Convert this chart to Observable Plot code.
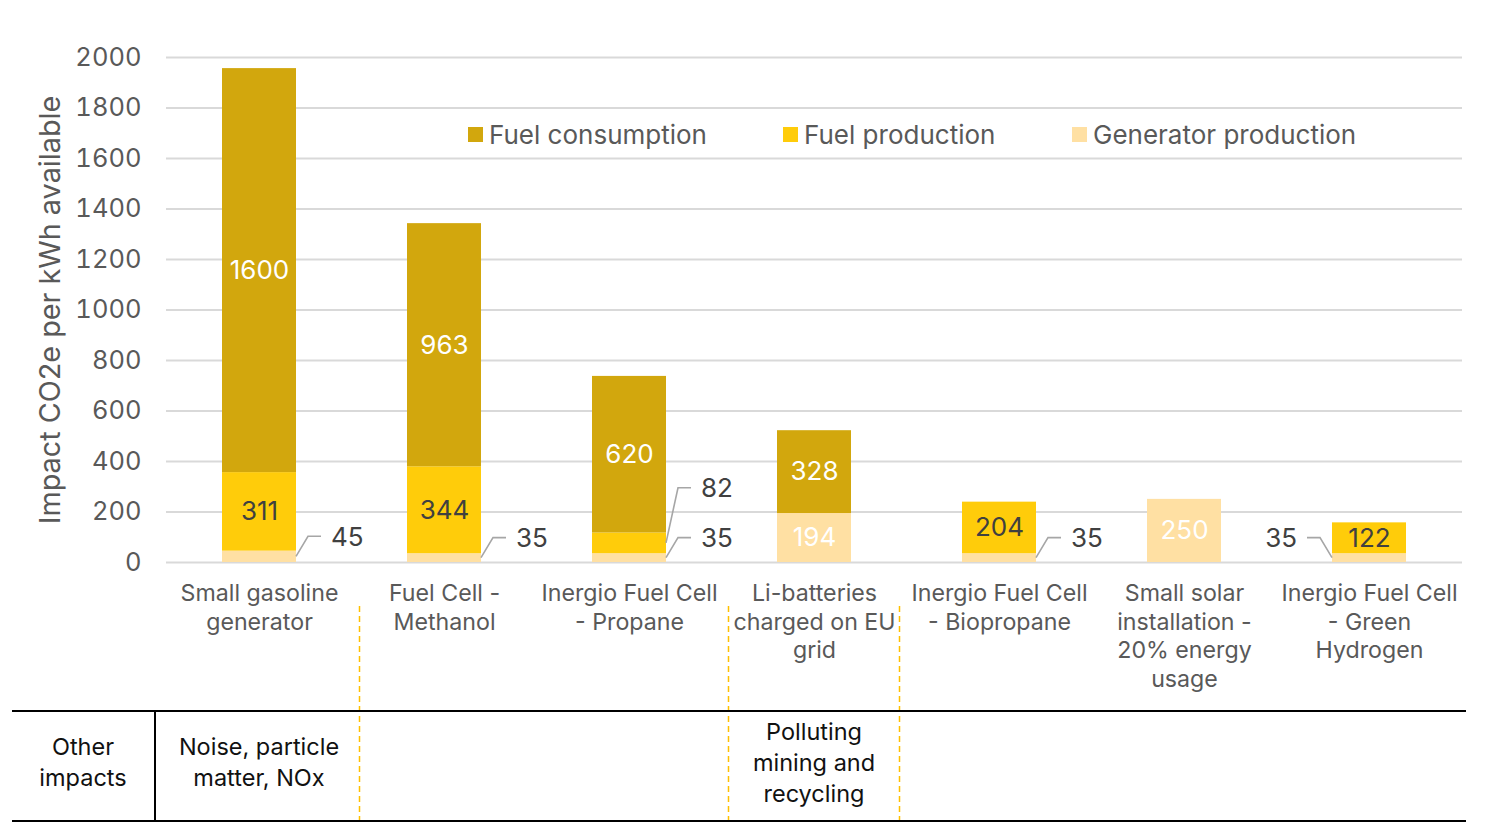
<!DOCTYPE html>
<html><head><meta charset="utf-8">
<script src="https://cdn.jsdelivr.net/npm/d3@7"></script>
<script src="https://cdn.jsdelivr.net/npm/@observablehq/plot@0.6"></script>
<style>
body{margin:0;background:#fff;font-family:Inter, "Noto Sans", sans-serif;}
#wrap{position:relative;width:1488px;height:837px;overflow:hidden;}
#wrap svg{position:absolute;left:0;top:0;}
.legend-item{position:absolute;top:119px;font-size:26px;color:#595959;display:flex;align-items:center;white-space:nowrap;}
.legend-item i{display:inline-block;width:15px;height:15px;margin-right:6px;}
</style></head><body><div id="wrap"></div>
<script>
// ---------- data ----------
const categories = [
  "Small gasoline generator",
  "Fuel Cell - Methanol",
  "Inergio Fuel Cell - Propane",
  "Li-batteries charged on EU grid",
  "Inergio Fuel Cell - Biopropane",
  "Small solar installation - 20% energy usage",
  "Inergio Fuel Cell - Green Hydrogen"
];
const categoryLabels = [
  "Small gasoline\ngenerator",
  "Fuel Cell -\nMethanol",
  "Inergio Fuel Cell\n- Propane",
  "Li-batteries\ncharged on EU\ngrid",
  "Inergio Fuel Cell\n- Biopropane",
  "Small solar\ninstallation -\n20% energy\nusage",
  "Inergio Fuel Cell\n- Green\nHydrogen"
];
const seriesNames = ["Fuel consumption", "Fuel production", "Generator production"];
const fuelConsumption     = [1600, 963, 620, 328, 0, 0, 0];
const fuelProduction      = [311, 344, 82, 0, 204, 0, 122];
const generatorProduction = [45, 35, 35, 194, 35, 250, 35];
const yTicks = [0, 200, 400, 600, 800, 1000, 1200, 1400, 1600, 1800, 2000];
const yLabel = "Impact CO2e per kWh available";
const tableHeader = "Other\nimpacts";
const otherImpacts = ["Noise, particle\nmatter, NOx", "", "", "Polluting\nmining and\nrecycling", "", "", ""];
const columnBreaksAfter = [0, 2, 3];

// ---------- styles ----------
const colors = ["#D2A70D", "#FFCC0A", "#FFE0A3"];
const labelColor = {"Fuel consumption": "#ffffff", "Fuel production": "#404040", "Generator production": "#ffffff"};

// ---------- build stacked rows ----------
const valuesBySeries = {
  "Fuel consumption": fuelConsumption,
  "Fuel production": fuelProduction,
  "Generator production": generatorProduction
};
const stackOrder = ["Generator production", "Fuel production", "Fuel consumption"];
const rows = [];
categories.forEach((c, i) => {
  let base = 0;
  for (const s of stackOrder) {
    const v = valuesBySeries[s][i];
    if (!v) continue;
    rows.push({category: c, index: i, series: s, value: v, y1: base, y2: base + v, mid: base + v / 2});
    base += v;
  }
});
const insideThreshold = 100;
const inside = rows.filter(d => d.value >= insideThreshold);
const leaders = rows.filter(d => d.value < insideThreshold);
const labelMap = new Map(categories.map((c, i) => [c, categoryLabels[i]]));

const chart = Plot.plot({
  width: 1488, height: 837,
  marginTop: 57, marginBottom: 275, marginLeft: 166, marginRight: 26,
  style: {fontFamily: "Inter, 'Noto Sans', sans-serif", background: "transparent", overflow: "visible"},
  x: {domain: categories, paddingInner: 0.6, paddingOuter: 0.3, axis: null},
  y: {domain: [0, 2000], axis: null},
  color: {domain: seriesNames, range: colors},
  marks: [
    Plot.gridY(yTicks, {stroke: "#d9d9d9", strokeWidth: 2, strokeOpacity: 1}),
    Plot.axisY(yTicks, {tickSize: 0, tickPadding: 25, fontSize: 25.5, fill: "#595959", label: null, tickFormat: d => String(d)}),
    Plot.axisX({tickSize: 0, tickPadding: 18, fontSize: 23.2, lineHeight: 1.24, fill: "#595959", tickFormat: d => labelMap.get(d), label: null}),
    Plot.barY(rows, {x: "category", y1: "y1", y2: "y2", fill: "series"}),
    Plot.text(inside.filter(d => labelColor[d.series] === "#ffffff"), {x: "category", y: "mid", text: d => String(d.value), fill: "#ffffff", fontSize: 26}),
    Plot.text(inside.filter(d => labelColor[d.series] !== "#ffffff"), {x: "category", y: "mid", text: d => String(d.value), fill: "#404040", fontSize: 26}),
    Plot.text([yLabel], {frameAnchor: "left", textAnchor: "middle", rotate: -90, dx: -116, fontSize: 28.8, fill: "#595959"})
  ]
});
document.getElementById("wrap").appendChild(chart);

// ---------- leader labels ----------
const xs = chart.scale("x"), ys = chart.scale("y");
const bw = xs.bandwidth;
const step = xs.apply(categories[1]) - xs.apply(categories[0]);
const svg = d3.select(chart);
const g = svg.append("g");
const leftSide = new Set(["Inergio Fuel Cell - Green Hydrogen"]);
leaders.forEach(d => {
  const left = leftSide.has(d.category);
  const edge = left ? xs.apply(d.category) : xs.apply(d.category) + bw;
  const sgn = left ? -1 : 1;
  const y0 = ys.apply(d.mid);
  const rise = d.series === "Fuel production" ? 55 : 20;
  const yl = y0 - rise;
  g.append("path")
    .attr("d", `M${edge},${y0}L${edge + sgn * 12},${yl}L${edge + sgn * 25},${yl}`)
    .attr("fill", "none").attr("stroke", "#a6a6a6").attr("stroke-width", 1.6);
  g.append("text")
    .attr("x", edge + sgn * 35).attr("y", yl)
    .attr("dominant-baseline", "central")
    .attr("text-anchor", left ? "end" : "start")
    .attr("font-size", 26).attr("fill", "#404040")
    .text(String(d.value));
});

// ---------- table of other impacts ----------
const tTop = 711, tBot = 821, tLeft = 12, tRight = 1466, tDiv = 155;
const tg = svg.append("g");
function multiline(x, cy, str, lh, size, fill) {
  const lines = str.split("\n");
  const t = tg.append("text").attr("text-anchor", "middle").attr("font-size", size).attr("fill", fill);
  lines.forEach((ln, i) => {
    t.append("tspan").attr("x", x).attr("y", cy + (i - (lines.length - 1) / 2) * lh)
      .attr("dominant-baseline", "central").text(ln);
  });
}
const breakShift = [8, 7, -7];
columnBreaksAfter.forEach((i, k) => {
  const bx = xs.apply(categories[i]) + bw / 2 + step / 2 + breakShift[k];
  tg.append("line").attr("x1", bx).attr("x2", bx).attr("y1", 606).attr("y2", tBot)
    .attr("stroke", "#FFC000").attr("stroke-width", 1.5).attr("stroke-dasharray", "6,4");
});
tg.append("line").attr("x1", tLeft).attr("x2", tRight).attr("y1", tTop).attr("y2", tTop).attr("stroke", "#000").attr("stroke-width", 2);
tg.append("line").attr("x1", tLeft).attr("x2", tRight).attr("y1", tBot).attr("y2", tBot).attr("stroke", "#000").attr("stroke-width", 2);
tg.append("line").attr("x1", tDiv).attr("x2", tDiv).attr("y1", tTop).attr("y2", tBot).attr("stroke", "#000").attr("stroke-width", 2);
multiline((tLeft + tDiv) / 2 - 0.5, 762, tableHeader, 31, 23.5, "#111");
otherImpacts.forEach((s, i) => {
  if (!s) return;
  multiline(xs.apply(categories[i]) + bw / 2, 762, s, 31, 23.5, "#111");
});

// ---------- legend ----------
const legendLeft = [468, 783, 1072];
seriesNames.forEach((s, i) => {
  const el = document.createElement("div");
  el.className = "legend-item";
  el.style.left = legendLeft[i] + "px";
  el.innerHTML = `<i style="background:${colors[i]}"></i>${s}`;
  document.getElementById("wrap").appendChild(el);
});
</script></body></html>
